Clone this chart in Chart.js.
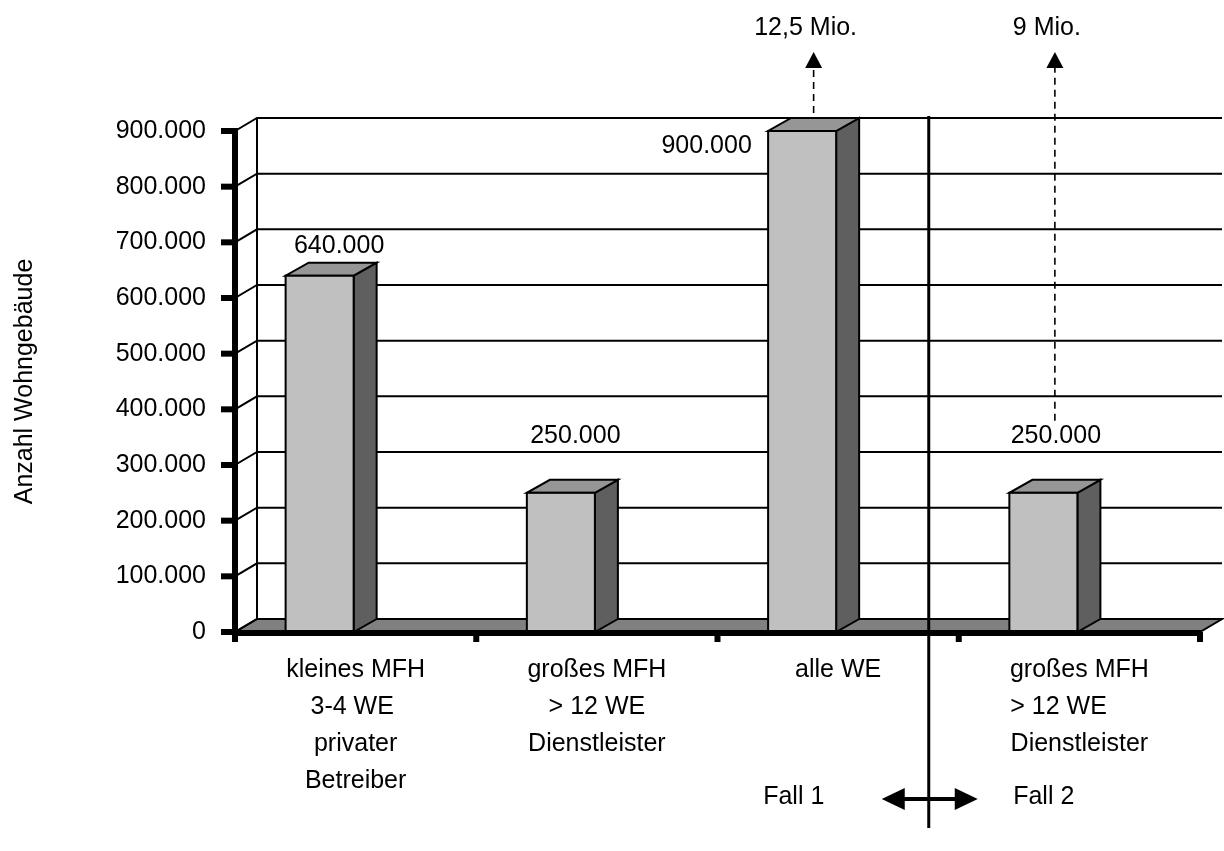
<!DOCTYPE html>
<html lang="de">
<head>
<meta charset="utf-8">
<title>Anzahl Wohngebäude</title>
<script src="https://cdn.jsdelivr.net/npm/chart.js@4.4.1/dist/chart.umd.min.js"></script>
<style>
  html, body { margin: 0; padding: 0; background: #fff; }
  canvas { display: block; }
</style>
</head>
<body>
<canvas id="wohnChart" width="1224" height="851"></canvas>
<script>
// Chart data
const categories = [
    ['kleines MFH', '3-4 WE ', 'privater', 'Betreiber'],
    ['großes MFH', '> 12 WE', 'Dienstleister'],
    ['alle WE'],
    ['großes MFH', '> 12 WE      ', 'Dienstleister']
];
const buildings = [640000, 250000, 900000, 250000];
const totalLabels = [null, null, '12,5 Mio.', '9 Mio.'];
const yTicks = [0, 100000, 200000, 300000, 400000, 500000, 600000, 700000, 800000, 900000];
const caseLabels = ['Fall 1', 'Fall 2'];

// Look
const FONT = "'Liberation Sans', Arial, sans-serif";
const wall = { dx: 22, dy: 13 };
const box = { dx: 23, dy: 13, shift: 36 };
// where each value label sits relative to the top of its bar
const labelShift = [[8, -17], [3, -44], [-107, 28], [1, -44]];

const fmt = v => String(v).replace(/\B(?=(\d{3})+(?!\d))/g, '.');

function poly(ctx, pts, fill) {
    ctx.beginPath();
    pts.forEach(([px, py], i) => i ? ctx.lineTo(px, py) : ctx.moveTo(px, py));
    ctx.closePath();
    if (fill) {
        ctx.fillStyle = fill;
        ctx.fill();
    }
    ctx.stroke();
}

function line(ctx, x1, y1, x2, y2) {
    ctx.beginPath();
    ctx.moveTo(x1, y1);
    ctx.lineTo(x2, y2);
    ctx.stroke();
}

// Excel-like 3D walls, floor, boxes and notes
const pseudo3d = {
    id: 'pseudo3d',
    beforeDatasetsDraw(chart) {
        const { ctx, chartArea: a, scales: { y } } = chart;
        ctx.save();
        ctx.strokeStyle = '#000';
        ctx.lineWidth = 2;

        // floor
        poly(ctx, [[a.left, a.bottom], [a.right, a.bottom],
            [a.right + wall.dx, a.bottom - wall.dy], [a.left + wall.dx, a.bottom - wall.dy]], '#808080');

        // grid lines on side and back wall
        yTicks.forEach(v => {
            const py = y.getPixelForValue(v);
            ctx.beginPath();
            ctx.moveTo(a.left, py);
            ctx.lineTo(a.left + wall.dx, py - wall.dy);
            if (v > 0) ctx.lineTo(a.right + wall.dx, py - wall.dy);
            ctx.stroke();
        });
        line(ctx, a.left + wall.dx, a.top - wall.dy, a.left + wall.dx, a.bottom - wall.dy);
        ctx.restore();
    },
    afterDatasetsDraw(chart) {
        const { ctx, chartArea: a, scales: { x, y } } = chart;
        const meta = chart.getDatasetMeta(0);
        ctx.save();
        ctx.strokeStyle = '#000';
        ctx.lineWidth = 2;
        ctx.lineJoin = 'miter';

        const tops = [];
        meta.data.forEach((bar, i) => {
            const p = bar.getProps(['x', 'y', 'base', 'width'], true);
            const l = p.x - box.shift - p.width / 2;
            const r = l + p.width;
            poly(ctx, [[r, p.y], [r + box.dx, p.y - box.dy], [r + box.dx, p.base - box.dy], [r, p.base]], '#5f5f5f');
            poly(ctx, [[l, p.y], [r, p.y], [r + box.dx, p.y - box.dy], [l + box.dx, p.y - box.dy]], '#969696');
            ctx.fillStyle = '#c0c0c0';
            ctx.fillRect(l, p.y, p.width, p.base - p.y);
            ctx.strokeRect(l, p.y, p.width, p.base - p.y);
            tops.push({ x: (l + r) / 2 + box.dx / 2, y: p.y - box.dy });
        });

        // front axes
        ctx.lineWidth = 6;
        ctx.lineCap = 'butt';
        line(ctx, a.left, a.top - 3, a.left, a.bottom + 4);
        line(ctx, a.left - 3, a.bottom + 1, a.right + 2, a.bottom + 1);
        yTicks.forEach(v => {
            const py = y.getPixelForValue(v);
            line(ctx, a.left - 14, py, a.left, py);
        });
        for (let i = 0; i <= categories.length; i++) {
            const px = x.getPixelForValue(i - 0.5);
            line(ctx, px, a.bottom, px, a.bottom + 10);
        }

        // value labels
        ctx.fillStyle = '#000';
        ctx.font = '25px ' + FONT;
        ctx.textAlign = 'center';
        ctx.textBaseline = 'middle';
        tops.forEach((t, i) => {
            const lx = t.x + labelShift[i][0];
            const ly = t.y + labelShift[i][1];
            ctx.fillText(fmt(buildings[i]), lx, ly);

            // dashed arrow to the number of flats
            if (!totalLabels[i]) return;
            const start = Math.min(t.y, ly - 10) - 5;
            const tip = a.top - 79;
            ctx.lineWidth = 1.6;
            ctx.setLineDash([7, 5]);
            line(ctx, t.x, start, t.x, tip + 16);
            ctx.setLineDash([]);
            ctx.beginPath();
            ctx.moveTo(t.x - 8.5, tip + 16);
            ctx.lineTo(t.x + 8.5, tip + 16);
            ctx.lineTo(t.x, tip);
            ctx.closePath();
            ctx.fill();
            ctx.fillText(totalLabels[i], t.x - 8, a.top - 103);
        });
        ctx.restore();
    },
    afterDraw(chart) {
        const { ctx, chartArea: a, scales: { x } } = chart;
        const dx = x.getPixelForValue(2.5) - 30;
        const ay = a.bottom + 167;
        ctx.save();
        ctx.strokeStyle = '#000';
        ctx.fillStyle = '#000';

        // divider between the two cases
        ctx.lineWidth = 3;
        line(ctx, dx, a.top - 15, dx, a.bottom + 196);

        // double arrow
        ctx.lineWidth = 4;
        line(ctx, dx - 30, ay, dx + 30, ay);
        ctx.beginPath();
        ctx.moveTo(dx - 47, ay);
        ctx.lineTo(dx - 24, ay - 11);
        ctx.lineTo(dx - 24, ay + 11);
        ctx.closePath();
        ctx.fill();
        ctx.beginPath();
        ctx.moveTo(dx + 49, ay);
        ctx.lineTo(dx + 26, ay - 11);
        ctx.lineTo(dx + 26, ay + 11);
        ctx.closePath();
        ctx.fill();

        ctx.font = '25px ' + FONT;
        ctx.textAlign = 'center';
        ctx.textBaseline = 'middle';
        ctx.fillText(caseLabels[0], dx - 135, ay - 2);
        ctx.fillText(caseLabels[1], dx + 115, ay - 2);
        ctx.restore();
    }
};

const ctx = document.getElementById('wohnChart');
new Chart(ctx, {
    type: 'bar',
    data: {
        labels: categories,
        datasets: [{
            label: 'Anzahl Wohngebäude',
            data: buildings,
            backgroundColor: 'rgba(0,0,0,0)',
            borderWidth: 0,
            categoryPercentage: 1,
            barPercentage: 0.282
        }]
    },
    options: {
        responsive: false,
        animation: false,
        devicePixelRatio: 1,
        layout: {
            padding: { top: 131, right: 24, bottom: 0, left: 0 }
        },
        plugins: {
            legend: { display: false },
            tooltip: { enabled: false }
        },
        scales: {
            x: {
                grid: { display: false, drawTicks: false },
                border: { display: false },
                ticks: {
                    color: '#000',
                    font: { family: FONT, size: 25, lineHeight: 1.47 },
                    padding: 20,
                    maxRotation: 0,
                    autoSkip: false
                },
                afterFit: scale => { scale.height = 219; }
            },
            y: {
                min: 0,
                max: 900000,
                grid: { display: false, drawTicks: false },
                border: { display: false },
                afterBuildTicks: scale => {
                    scale.ticks = yTicks.map(v => ({ value: v }));
                },
                ticks: {
                    color: '#000',
                    font: { family: FONT, size: 25 },
                    padding: 29,
                    callback: v => fmt(v)
                },
                title: {
                    display: true,
                    text: 'Anzahl Wohngebäude',
                    color: '#000',
                    font: { family: FONT, size: 25 },
                    padding: { top: 10, bottom: 0 }
                },
                afterFit: scale => { scale.width = 235; }
            }
        }
    },
    plugins: [pseudo3d]
});
</script>
</body>
</html>
